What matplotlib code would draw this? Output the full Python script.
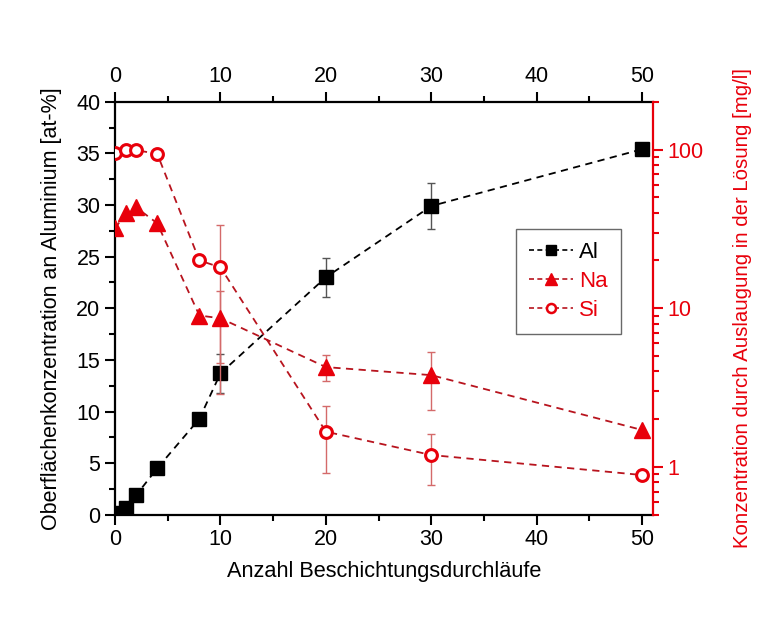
import matplotlib
matplotlib.use("Agg")
import matplotlib.pyplot as plt
from matplotlib.ticker import MultipleLocator, LogLocator, NullFormatter, FuncFormatter
from matplotlib.lines import Line2D

plt.rcParams["font.family"] = ["Liberation Sans", "DejaVu Sans"]

# ── Data ───────────────────────────────────────────────────────────────────
runs = [0, 1, 2, 4, 8, 10, 20, 30, 50]

al_vals = [0.2, 0.7, 1.9, 4.5, 9.3, 13.7, 23.0, 29.9, 35.4]
al_err  = [0, 0, 0, 0, 0, 1.9, 1.9, 2.2, 0]

na_vals = [31.8, 39.6, 43.2, 34.3, 9.0, 8.65, 4.26, 3.79, 1.71]
na_err  = [0, 0, 0, 0, 0, 4.15, 0.8, 1.5, 0]

si_vals = [95, 99, 99, 94, 20.0, 18.1, 1.67, 1.19, 0.89]
si_err  = [0, 0, 0, 0, 0, 15.2, 0.75, 0.42, 0]

RED    = "#e8000b"
RED_LN = "#b8141e"
RED_EB = "#d46a6a"

# ── Figure ─────────────────────────────────────────────────────────────────
fig = plt.figure(figsize=(7.67, 6.24), dpi=100)
ax = fig.add_axes([0.150, 0.175, 0.701, 0.662])
ax2 = ax.twinx()

def only_err(y, err):
    xs = [x for x, e in zip(runs, err) if e > 0]
    ys = [v for v, e in zip(y, err) if e > 0]
    es = [e for e in err if e > 0]
    return xs, ys, es

# Al on left axis
xs, ys, es = only_err(al_vals, al_err)
ax.errorbar(xs, ys, yerr=es, fmt="none", ecolor="#555555", elinewidth=1.0,
            capsize=3, capthick=1.0, zorder=2)
ax.plot(runs, al_vals, ls=(0, (4, 3)), color="black", lw=1.3,
        marker="s", ms=9.8, mfc="black", mec="black", zorder=3)

# Na / Si on right log axis
for vals, err in [(na_vals, na_err), (si_vals, si_err)]:
    xs, ys, es = only_err(vals, err)
    ax2.errorbar(xs, ys, yerr=es, fmt="none", ecolor=RED_EB, elinewidth=1.0,
                 capsize=3, capthick=1.0, zorder=2)
ax2.plot(runs, na_vals, ls=(0, (4, 3)), color=RED_LN, lw=1.3,
         marker="^", ms=11.5, mfc=RED, mec=RED, zorder=3)
ax2.plot(runs, si_vals, ls=(0, (4, 3)), color=RED_LN, lw=1.3,
         marker="o", ms=8.5, mfc="white", mec=RED, mew=2.2, zorder=3)

# ── Axes ───────────────────────────────────────────────────────────────────
ax.set_xlim(0, 51)
ax.set_ylim(0, 40)
ax.xaxis.set_major_locator(MultipleLocator(10))
ax.xaxis.set_minor_locator(MultipleLocator(5))
ax.yaxis.set_major_locator(MultipleLocator(5))
ax.yaxis.set_minor_locator(MultipleLocator(2.5))
ax.tick_params(which="both", direction="out", top=True, labeltop=True,
               labelsize=15.5, width=1.5)
ax.tick_params(which="major", length=7)
ax.tick_params(which="minor", length=4)
for s in ["left", "top", "bottom"]:
    ax.spines[s].set_linewidth(1.6)
ax.spines["right"].set_visible(False)

ax2.set_yscale("log")
ax2.set_ylim(0.5, 200)
ax2.yaxis.set_major_locator(LogLocator(base=10))
ax2.yaxis.set_minor_locator(LogLocator(base=10, subs=range(2, 10)))
ax2.yaxis.set_minor_formatter(NullFormatter())
ax2.yaxis.set_major_formatter(FuncFormatter(lambda v, p: f"{v:g}"))
ax2.tick_params(which="both", direction="out", colors=RED, labelsize=15.5, width=1.5)
ax2.tick_params(which="major", length=7)
ax2.tick_params(which="minor", length=4)
for s in ["left", "top", "bottom"]:
    ax2.spines[s].set_visible(False)
ax2.spines["right"].set_color(RED)
ax2.spines["right"].set_linewidth(1.6)

ax.set_xlabel("Anzahl Beschichtungsdurchläufe", fontsize=15.7, labelpad=8)
ax.set_ylabel("Oberflächenkonzentration an Aluminium [at-%]", fontsize=15.5, labelpad=10)
ax2.set_ylabel("Konzentration durch Auslaugung in der Lösung [mg/l]",
               fontsize=14.7, color=RED, labelpad=21)

# ── Legend ─────────────────────────────────────────────────────────────────
handles = [
    Line2D([], [], ls=(0, (3, 2)), color="black", lw=1.2, marker="s", ms=7,
           mfc="black", mec="black"),
    Line2D([], [], ls=(0, (3, 2)), color=RED_LN, lw=1.2, marker="^", ms=9,
           mfc=RED, mec=RED),
    Line2D([], [], ls=(0, (3, 2)), color=RED_LN, lw=1.2, marker="o", ms=6.5,
           mfc="white", mec=RED, mew=1.8),
]
leg = ax2.legend(handles, ["Al", "Na", "Si"], loc="upper left",
                 bbox_to_anchor=(0.745, 0.692), fontsize=16, frameon=True,
                 fancybox=False, edgecolor="#444444", handlelength=2.0,
                 borderpad=0.6, labelspacing=0.35, handletextpad=0.25,
                 borderaxespad=0)
leg.get_frame().set_linewidth(1.0)
for t, c in zip(leg.get_texts(), ["black", RED, RED]):
    t.set_color(c)

plt.savefig("out.png", dpi=100)
plt.close()
